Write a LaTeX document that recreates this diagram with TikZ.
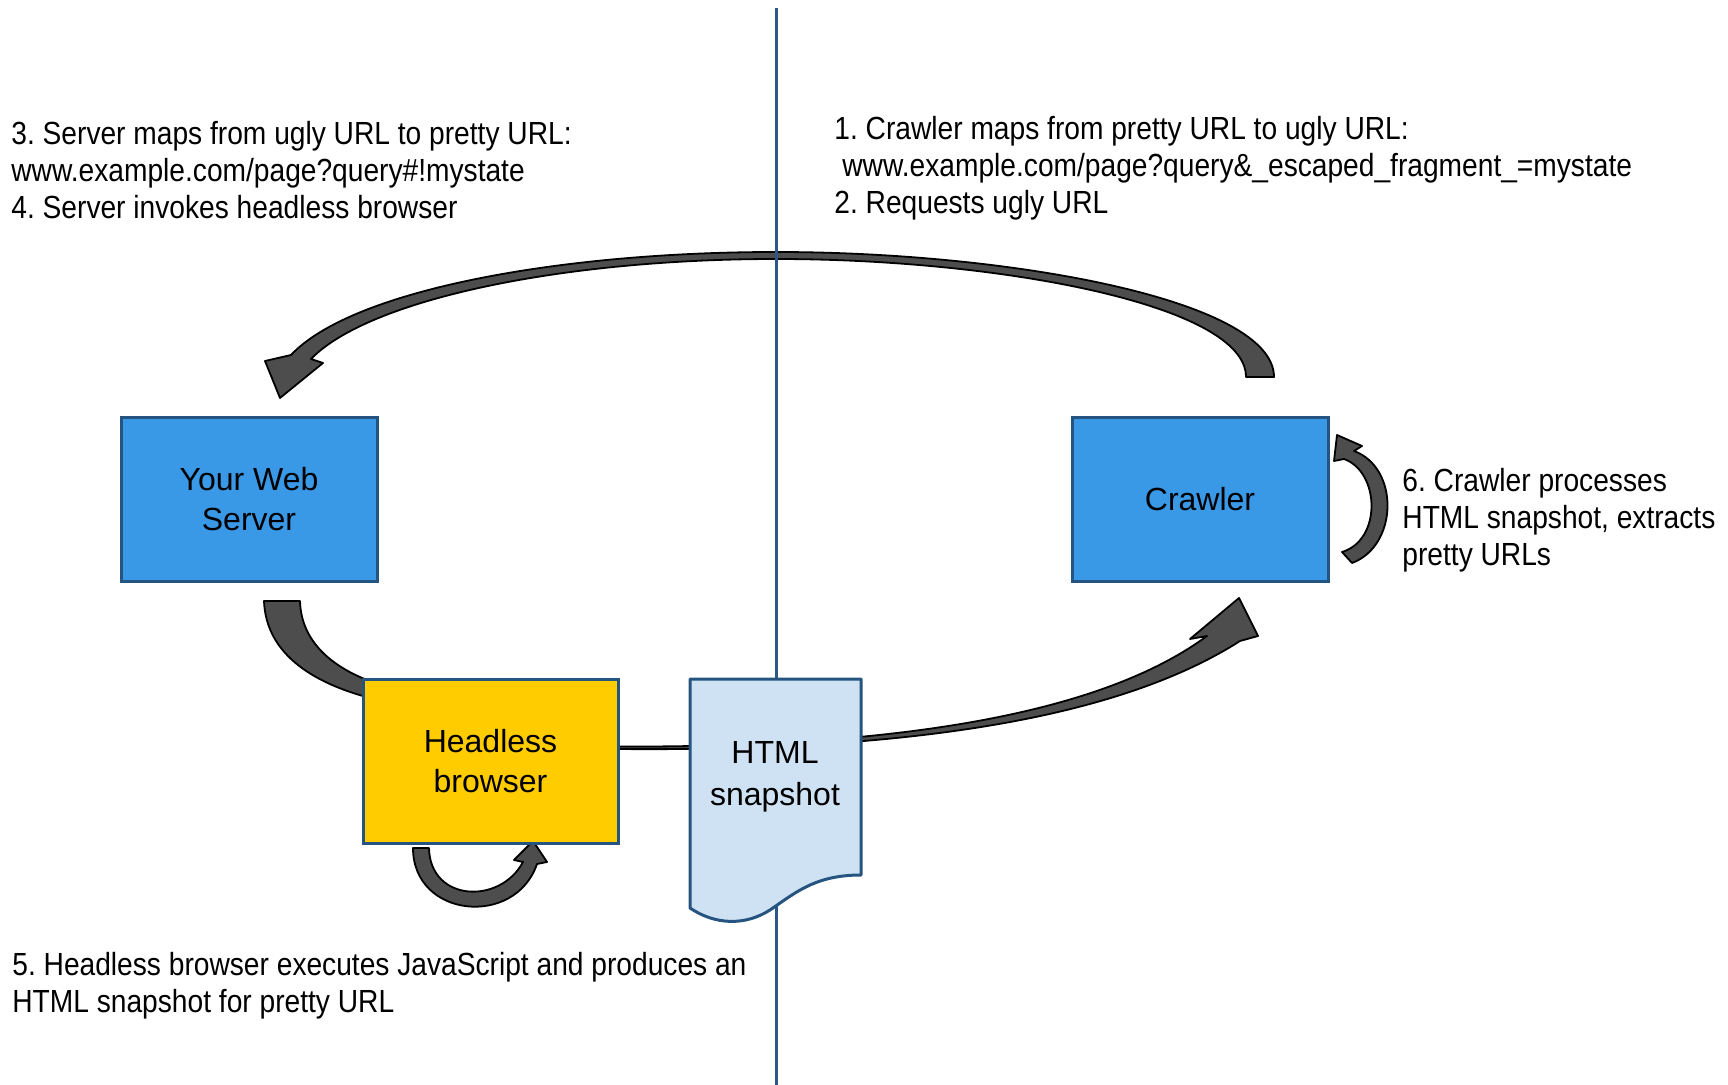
\documentclass[tikz,border=0pt]{standalone}
\usepackage{fontspec}
\setmainfont{Liberation Sans}
\newfontfamily\annfont[FakeStretch=0.88]{Liberation Sans}
\definecolor{boxblue}{RGB}{58,153,230}
\definecolor{boxedge}{RGB}{38,84,128}
\definecolor{hlyellow}{RGB}{255,204,0}
\definecolor{snapfill}{RGB}{207,226,243}
\definecolor{arrowgray}{RGB}{77,77,77}
\definecolor{divider}{RGB}{44,88,135}
\frenchspacing
\begin{document}
\begin{tikzpicture}[x=0.5pt,y=-0.5pt,
  box/.style={rectangle, draw=boxedge, line width=1.5pt, minimum width=128pt,
    minimum height=82pt, inner sep=0pt, align=center, font=\fontsize{16}{20}\selectfont},
  bluebox/.style={box, fill=boxblue},
  yellowbox/.style={box, fill=hlyellow},
  blockarrow/.style={fill=arrowgray, draw=black, line width=0.9pt, line join=round},
  ann/.style={anchor=base west, inner sep=0pt, font=\annfont\fontsize{16}{18.5}\selectfont},
  docshape/.style={fill=snapfill, draw=boxedge, line width=1.5pt, line join=round},
  divline/.style={draw=divider, line width=1.5pt}]
\useasboundingbox (0,0) rectangle (1728,1085);

% named end points of the block arrows
\coordinate (arctip) at (280,398);
\coordinate (rtip) at (1239,598);
\coordinate (hltip) at (533,841);
\coordinate (crtip) at (1337,435);

% top arc: Crawler -> Your Web Server
\path[blockarrow] (1274,377) .. controls (1274,300) and (1010,252) .. (776,252)
  .. controls (560,252) and (352,290) .. (291,355) -- (265,361) -- (arctip)
  -- (323,363) -- (311,359) .. controls (368,300) and (560,259) .. (776,259)
  .. controls (1000,259) and (1246,305) .. (1246,377) -- cycle;

% Your Web Server -> Headless browser
\path[blockarrow] (264,601) .. controls (266,655) and (315,685) .. (378,700)
  -- (378,684) .. controls (330,668) and (301,640) .. (300,601) -- cycle;

% Headless browser -> (HTML snapshot) -> Crawler
\path[blockarrow] (618,746.5) .. controls (950,748) and (1120,700) .. (1207,636)
  -- (1190,639) -- (rtip) -- (1258,636) -- (1240,641)
  .. controls (1135,708) and (950,752) .. (618,749) -- cycle;

% Headless browser self loop
\path[blockarrow] (413,848) .. controls (413,918) and (515,928) .. (537,864)
  -- (547,862) -- (hltip) -- (514,860) -- (523,862)
  .. controls (500,905) and (430,902) .. (429,848) -- cycle;

% Crawler self loop
\path[blockarrow] (1352,563) .. controls (1398,546) and (1400,468) .. (1354,451)
  -- (1362,446) -- (crtip) -- (1334,461) -- (1344,459)
  .. controls (1380,472) and (1382,540) .. (1342,552) -- cycle;

% divider
\coordinate (divtop) at (776,8);
\coordinate (divbot) at (776,1085);
\draw[divline] (divtop) -- (divbot);

% boxes
\node[bluebox] (server) at (249,499) {Your Web\\Server};
\node[bluebox] (crawler) at (1200,499.5) {Crawler};
\node[yellowbox, minimum width=127.5pt] (headless) at (490.5,761) {Headless\\browser};

% HTML snapshot document
\path[docshape] (690,679) -- (861,679) -- (861,875)
  .. controls (815,875) and (795,893) .. (770,910)
  .. controls (745,926) and (715,925) .. (690,908) -- cycle;
\node[align=center, inner sep=0pt, font=\fontsize{16}{21}\selectfont] (snapshot) at (775,777) {HTML\\snapshot};

% annotations
\node[ann] (t34) at (11,145) {\begin{tabular}[t]{@{}l@{}}3. Server maps from ugly URL to pretty URL:\\www.example.com/page?query\#!mystate\\4. Server invokes headless browser\end{tabular}};
\node[ann] (t12) at (834,140) {\begin{tabular}[t]{@{}l@{}}1. Crawler maps from pretty URL to ugly URL:\\\hspace*{4pt}www.example.com/page?query\&\_escaped\_fragment\_=mystate\\2. Requests ugly URL\end{tabular}};
\node[ann] (t6) at (1402,491) {\begin{tabular}[t]{@{}l@{}}6. Crawler processes\\HTML snapshot, extracts\\pretty URLs\end{tabular}};
\node[ann] (t5) at (12,975) {\begin{tabular}[t]{@{}l@{}}5. Headless browser executes JavaScript and produces an\\HTML snapshot for pretty URL\end{tabular}};
\end{tikzpicture}
\end{document}
